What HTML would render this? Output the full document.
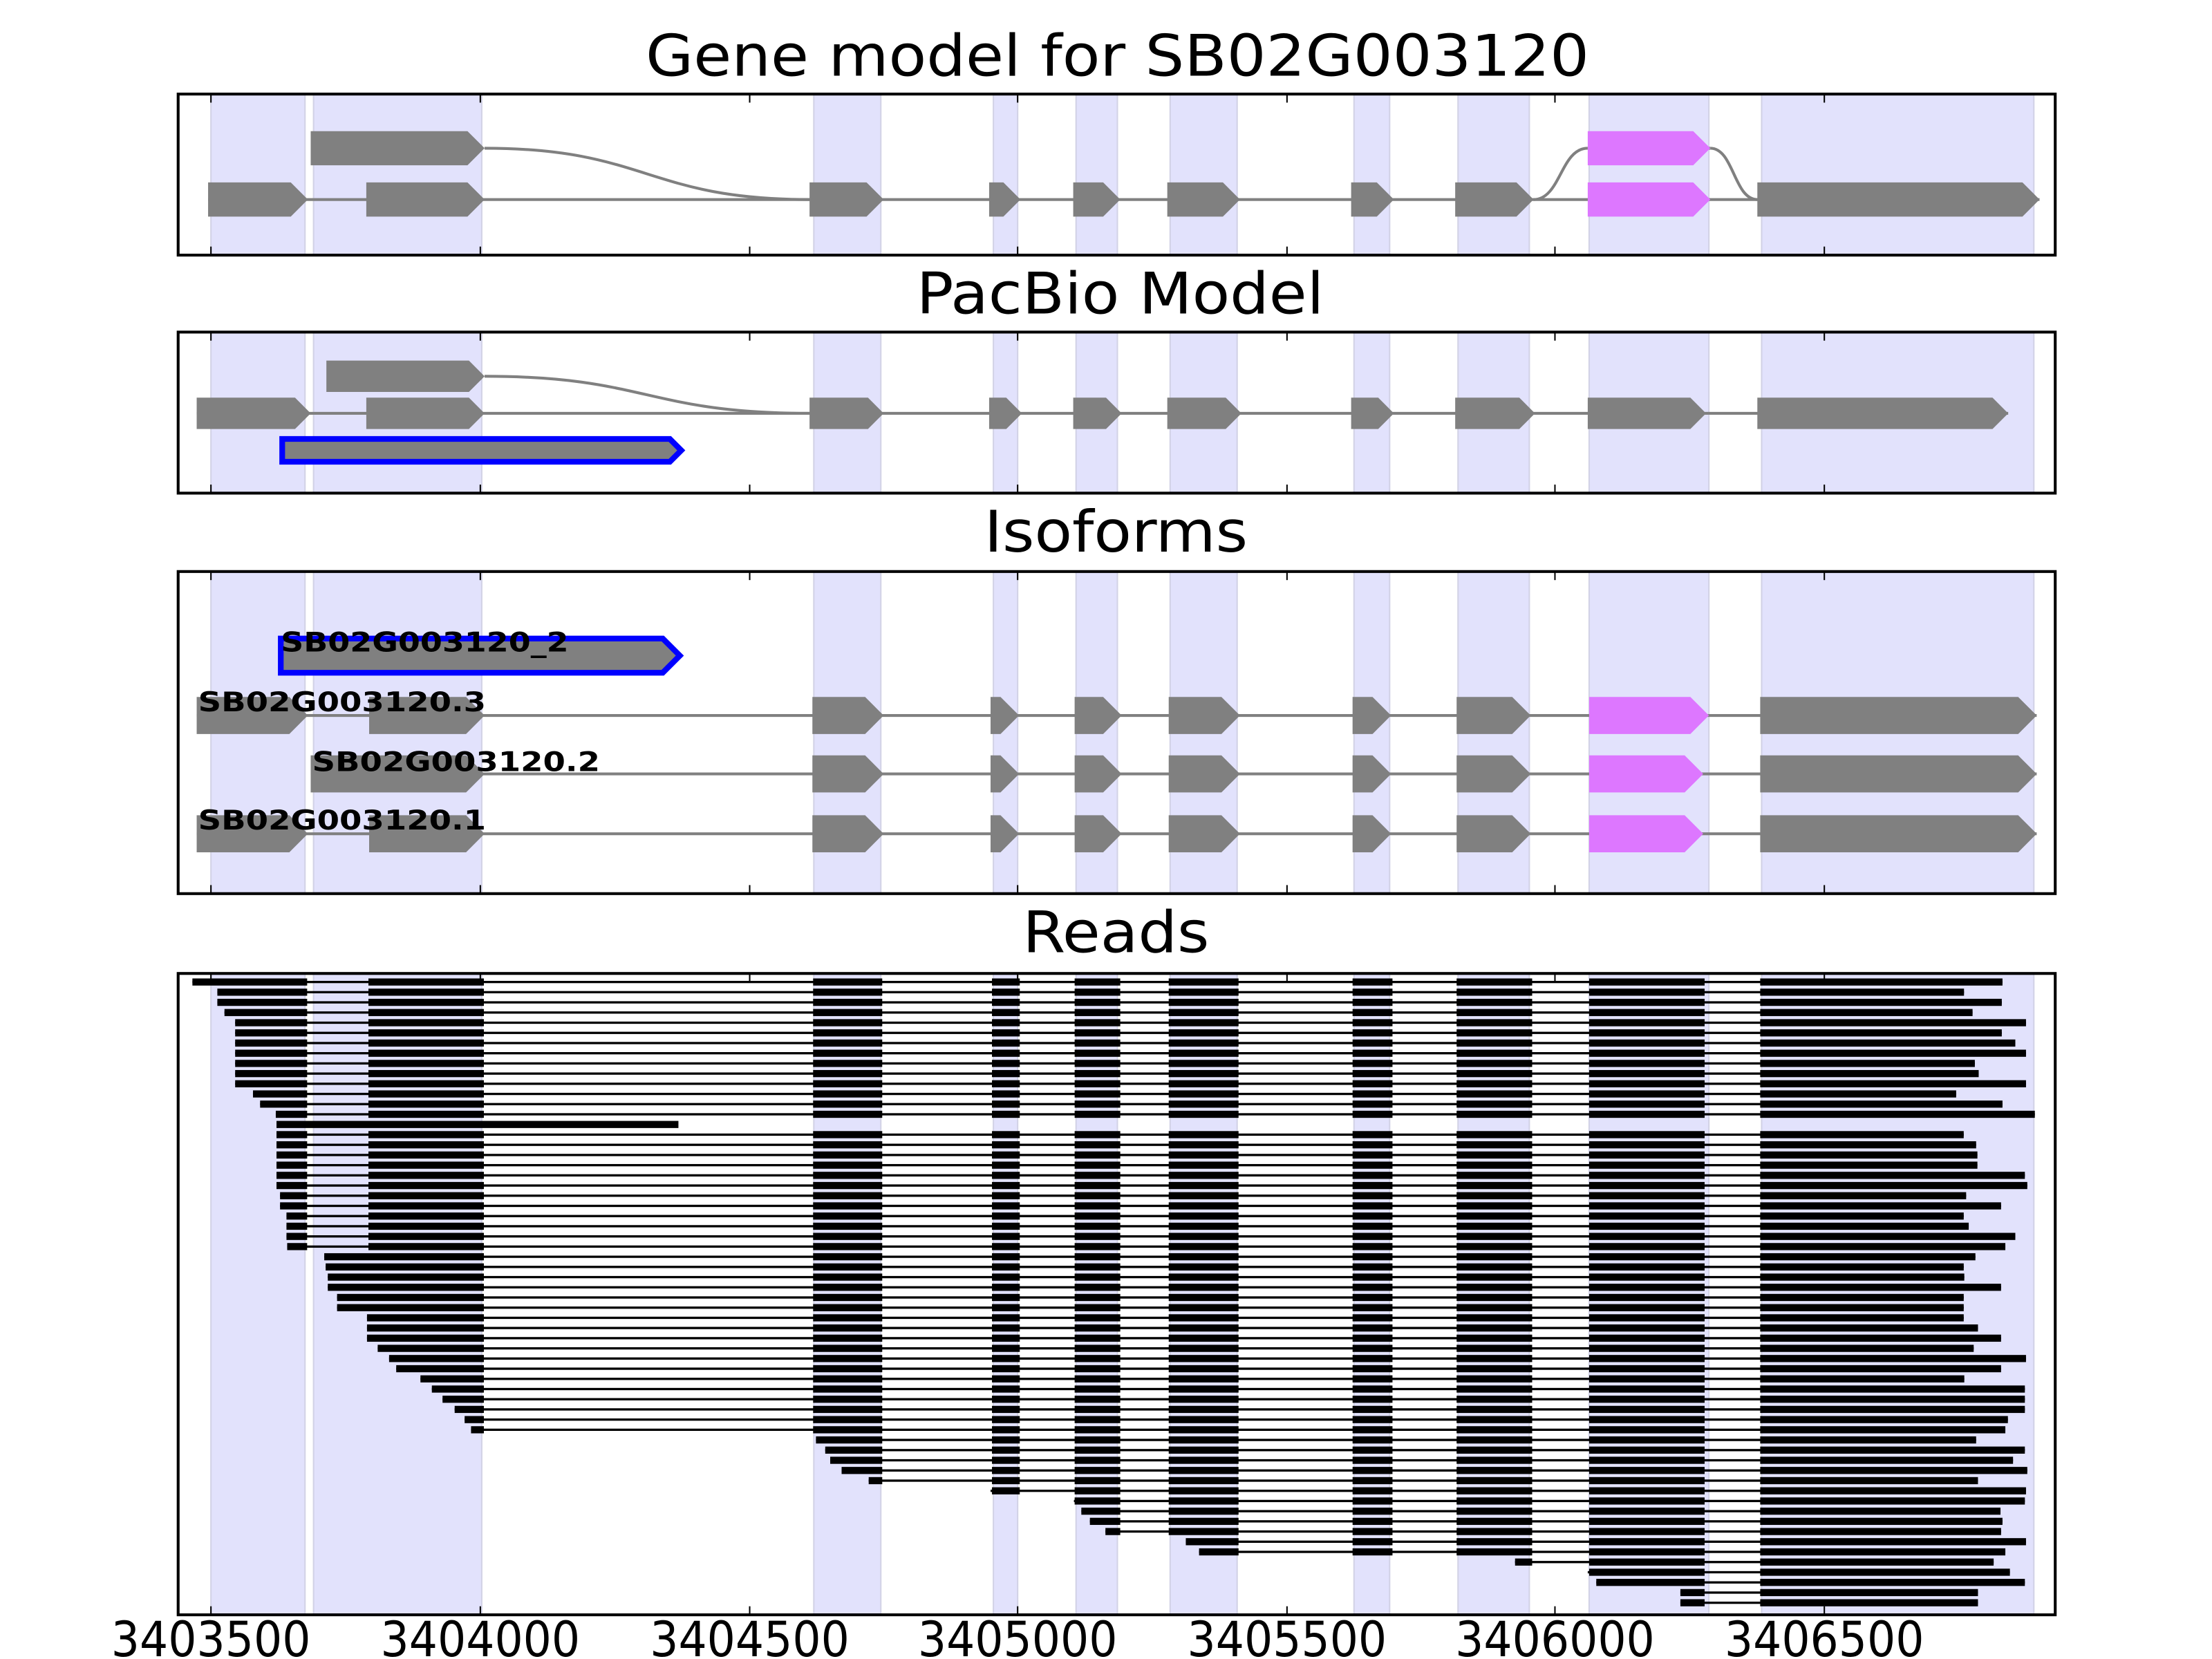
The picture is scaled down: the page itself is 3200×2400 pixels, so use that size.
<!DOCTYPE html>
<html><head><meta charset="utf-8">
<style>
html,body{margin:0;padding:0;background:#fff;}
svg{display:block;}
text{font-family:"DejaVu Sans Condensed","DejaVu Sans","Liberation Sans",sans-serif;}
</style></head>
<body>
<svg id="s" xmlns="http://www.w3.org/2000/svg" width="3200" height="2400" viewBox="0 0 1552 1164" preserveAspectRatio="none">
<rect width="1552" height="1164" fill="#fff"/>
<g id="shade"></g>
<g id="content"></g>
<g id="frames"></g>
<text x="784" y="53" font-size="40" text-anchor="middle" textLength="662" lengthAdjust="spacingAndGlyphs">Gene model for SB02G003120</text>
<text x="786" y="220" font-size="40" text-anchor="middle" textLength="286" lengthAdjust="spacingAndGlyphs">PacBio Model</text>
<text x="783" y="387" font-size="40" text-anchor="middle" textLength="185" lengthAdjust="spacingAndGlyphs">Isoforms</text>
<text x="783" y="668" font-size="40" text-anchor="middle" textLength="131" lengthAdjust="spacingAndGlyphs">Reads</text>
<g font-size="34" text-anchor="middle">
<text x="148" y="1162" textLength="140" lengthAdjust="spacingAndGlyphs">3403500</text>
<text x="337" y="1162" textLength="140" lengthAdjust="spacingAndGlyphs">3404000</text>
<text x="526" y="1162" textLength="140" lengthAdjust="spacingAndGlyphs">3404500</text>
<text x="714" y="1162" textLength="140" lengthAdjust="spacingAndGlyphs">3405000</text>
<text x="903" y="1162" textLength="140" lengthAdjust="spacingAndGlyphs">3405500</text>
<text x="1091" y="1162" textLength="140" lengthAdjust="spacingAndGlyphs">3406000</text>
<text x="1280" y="1162" textLength="140" lengthAdjust="spacingAndGlyphs">3406500</text>
</g>
<g id="labels" font-size="19" font-weight="bold"></g>
</svg>
<script>
var NS="http://www.w3.org/2000/svg";
function el(p,t,a){var e=document.createElementNS(NS,t);for(var k in a)e.setAttribute(k,a[k]);document.getElementById(p).appendChild(e);return e;}
var panels=[[66,179],[233,346],[401,627],[683,1133]];
var L=125,R=1442;
var regs=[[148,214],[220,338],[571,618],[697,714],[755,784],[821,868],[950,975],[1023,1073],[1115,1199],[1236,1427]];
panels.forEach(function(p){
 regs.forEach(function(r){
  el("shade","rect",{x:r[0],y:p[0],width:r[1]-r[0],height:p[1]-p[0],fill:"#e2e2fc",stroke:"#d2d2e6","stroke-width":1});
 });
 el("frames","rect",{x:L,y:p[0],width:R-L,height:p[1]-p[0],fill:"none",stroke:"#000","stroke-width":2});
 [148,337,526,714,903,1091,1280].forEach(function(x){
  el("frames","line",{x1:x,y1:p[0],x2:x,y2:p[0]+6,stroke:"#000","stroke-width":1});
  el("frames","line",{x1:x,y1:p[1],x2:x,y2:p[1]-6,stroke:"#000","stroke-width":1});
 });
});
var G="#808080",M="#dd77ff";
function arrow(x1,x2,y,h,c,st){var t=h/2;var pts=[x1,y-h/2,x2-t,y-h/2,x2,y,x2-t,y+h/2,x1,y+h/2].join(" ");
 var a={points:pts,fill:c};if(st){a.stroke=st;a["stroke-width"]=4;}el("content","polygon",a);}
function line(x1,x2,y){el("content","line",{x1:x1,y1:y,x2:x2,y2:y,stroke:G,"stroke-width":2});}
function curve(x1,y1,x2,y2){var m=(x1+x2)/2;el("content","path",{d:"M"+x1+" "+y1+" C"+m+" "+y1+" "+m+" "+y2+" "+x2+" "+y2,fill:"none",stroke:G,"stroke-width":2});}
function model(ex,y,h,magIdx){
 line(ex[0][0],ex[ex.length-1][1],y);
 ex.forEach(function(e,i){arrow(e[0],e[1],y,h,i==magIdx?M:G);});
}
// Panel 1
var e1=[[146,216],[257,340],[568,620],[694,716],[753,786],[819,870],[948,978],[1021,1076],[1114,1200],[1233,1431]];
model(e1,140,24,8);
curve(340,104,568,140);arrow(218,340,104,24,G);
curve(1076,140,1114,104);curve(1200,104,1233,140);line(1114,1200,104);arrow(1114,1200,104,24,M);
// Panel 2
var e2=[[138,218],[257,340],[568,620],[694,717],[753,787],[819,871],[948,978],[1021,1077],[1114,1197],[1233,1409]];
model(e2,290,22,-1);
curve(340,264,568,290);arrow(229,340,264,22,G);
arrow(198,478,316,16,G,"#0000ff");
// Panel 3
arrow(197,477,460,24,G,"#0000ff");
var e3=[[138,216],[259,340],[570,620],[695,715],[754,787],[820,870],[949,976],[1022,1074],[1115,1199],[1235,1429]];
model(e3,502,26,8);
var e4=[[218,340]].concat(e3.slice(2));e4[7]=[1115,1195];
model(e4,543,26,7);
var e5=e3.slice();e5[8]=[1115,1195];
model(e5,585,26,8);
[[197,457,"SB02G003120_2"],[139,499,"SB02G003120.3"],[219,541,"SB02G003120.2"],[139,582,"SB02G003120.1"]].forEach(function(l){
 var t=el("labels","text",{x:l[0],y:l[1],textLength:202,lengthAdjust:"spacingAndGlyphs"});t.textContent=l[2];});
// Reads
var starts=[135,152.5,152.5,157.5,165,165,165,165,165,165,165,177.5,182.5,193.5,194,194,194,194,194,194,194,196.5,196.5,201,201,201,201.5,
227.5,228.5,230,230,236.5,236.5,257.5,257.5,257.5,265,273,278,295,303,310.5,319,326,330.5,
572.5,579,582.5,590.5,609.5,695,753.5,758.7,764.7,775.6,832,841.3,1063,1114,1120,1179,1179];
var ends=[1405,1378,1404.5,1384,1421.5,1404.5,1414,1421.5,1385.6,1388.3,1421.5,1372.5,1405,1427.7,476,
1377.8,1386.5,1387.4,1387.4,1420.7,1422.4,1379.5,1404,1377.8,1381.3,1414,1407,1386,1377.8,1378.2,1404,1377.8,1377.8,1377.8,1387.8,1404,1384.8,1421.5,1404,1378.2,1420.7,1420.7,1420.7,1408.8,1407,1386.5,1420.7,1412.4,1422.4,1387.8,1421.5,1420.7,1403.6,1405,1404,1421.5,1407,1398.8,1410.2,1420.7,1387.8,1387.8];
var ex=[[0,215.5],[258.5,339.5],[570.5,619],[696,715.5],[754,786],[820,869],[949,977],[1022,1075],[1115,1196],[1235,2000]];
for(var i=0;i<62;i++){
 var y=689+i*7.14,s=starts[i],e=ends[i];
 if(i==14){el("content","rect",{x:s,y:y-2.5,width:e-s,height:5,fill:"#000"});continue;}
 el("content","rect",{x:s,y:y-0.8,width:e-s,height:1.6,fill:"#000"});
 ex.forEach(function(b){
  var a=Math.max(b[0],s),z=Math.min(b[1],e);
  if(s>=220&&s<340&&b[0]==258.5)a=s;
  if(z>a)el("content","rect",{x:a,y:y-2.5,width:z-a,height:5,fill:"#000"});
 });
}
</script>
</body></html>
